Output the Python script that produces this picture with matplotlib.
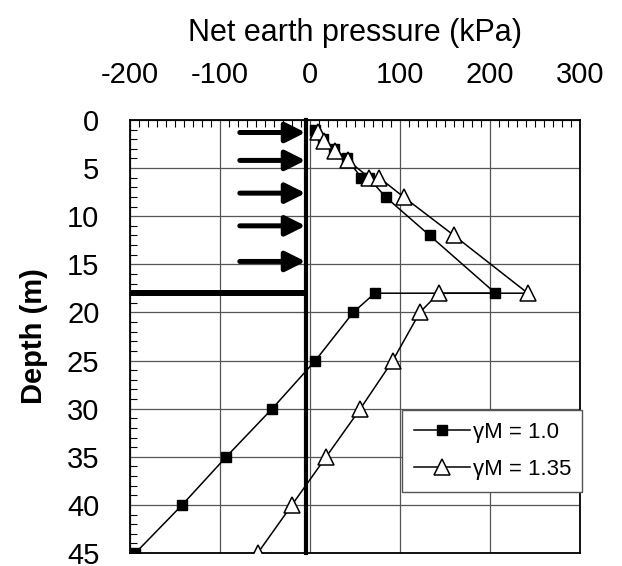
import matplotlib
matplotlib.use("Agg")
import matplotlib.pyplot as plt
from matplotlib.ticker import MultipleLocator

plt.rcParams['font.family'] = ['Liberation Sans', 'DejaVu Sans']
plt.rcParams['axes.unicode_minus'] = False

# Data
x_g10 = [6, 14, 27, 41, 57, 65, 84, 133, 206, 72, 48, 6, -42, -93, -142, -194]
d_g10 = [1, 2, 3, 4, 6, 6, 8, 12, 18, 18, 20, 25, 30, 35, 40, 45]
x_g135 = [9, 16, 28, 42, 66, 77, 104, 160, 242, 143, 122, 92, 56, 18, -20, -58]
d_g135 = [1.2, 2.2, 3.2, 4.2, 6, 6, 8, 12, 18, 18, 20, 25, 30, 35, 40, 45]
labels = ["γM = 1.0", "γM = 1.35"]

arrow_depths = [1.3, 4.2, 7.6, 11.0, 14.7]
arrow_x_start = -78
arrow_x_end = -5
wall_x = -4
base_depth = 18

xticks = [-200, -100, 0, 100, 200, 300]
yticks = [0, 5, 10, 15, 20, 25, 30, 35, 40, 45]

fig = plt.figure(figsize=(6.22, 5.66), dpi=100)
ax = fig.add_axes([130/622, 1-553/566, 450/622, 433/566])

ax.set_xlim(-200, 300)
ax.set_ylim(45, 0)

ax.grid(True, which='major', color='#555555', linewidth=0.9)
ax.set_axisbelow(True)

# wall and base
ax.plot([wall_x, wall_x], [0, 45], color='black', lw=3.0, zorder=3, clip_on=False)
ax.plot([-200, wall_x], [base_depth, base_depth], color='black', lw=4.3, zorder=3,
        solid_capstyle='butt')

for d in arrow_depths:
    ax.annotate('', xy=(arrow_x_end, d), xytext=(arrow_x_start, d),
                arrowprops=dict(arrowstyle='-|>,head_length=0.6,head_width=0.3',
                                mutation_scale=20,
                                color='black', lw=3.6, shrinkA=0, shrinkB=0),
                zorder=4)

ax.plot(x_g10, d_g10, color='black', lw=1.1, marker='s', markersize=7.5,
        markerfacecolor='black', markeredgecolor='black', label=labels[0], zorder=5)
ax.plot(x_g135, d_g135, color='black', lw=1.1, marker='^', markersize=11,
        markerfacecolor='white', markeredgecolor='black', markeredgewidth=1.1,
        label=labels[1], zorder=5)

ax.set_xticks(xticks)
ax.set_yticks(yticks)
ax.xaxis.set_minor_locator(MultipleLocator(10))
ax.yaxis.set_minor_locator(MultipleLocator(1))
ax.xaxis.tick_top()
ax.tick_params(axis='x', which='both', top=True, bottom=False, direction='in')
ax.tick_params(axis='y', which='both', left=True, right=False, direction='in')
ax.tick_params(which='major', length=0, labelsize=21)
ax.tick_params(axis='x', which='major', pad=22)
ax.tick_params(axis='y', which='major', pad=22)
ax.tick_params(which='minor', length=5, width=0.8)
for sp in ax.spines.values():
    sp.set_linewidth(1.3)

ax.set_xlabel("Net earth pressure (kPa)", fontsize=22, labelpad=15)
ax.xaxis.set_label_position('top')
ax.set_ylabel("Depth (m)", fontsize=21, fontweight='bold', labelpad=14)

leg = ax.legend(loc='lower left', bbox_to_anchor=(402/622, 1-492/566, 180/622, 80/566),
                bbox_transform=fig.transFigure, mode='expand', fontsize=16,
                frameon=True, fancybox=False, framealpha=1, edgecolor='#555555',
                handlelength=2.5, handletextpad=0.15, borderaxespad=0,
                labelspacing=0.7, borderpad=0.55)
leg.get_frame().set_linewidth(1.0)
leg.set_zorder(10)

fig.savefig("out.png", dpi=100)
